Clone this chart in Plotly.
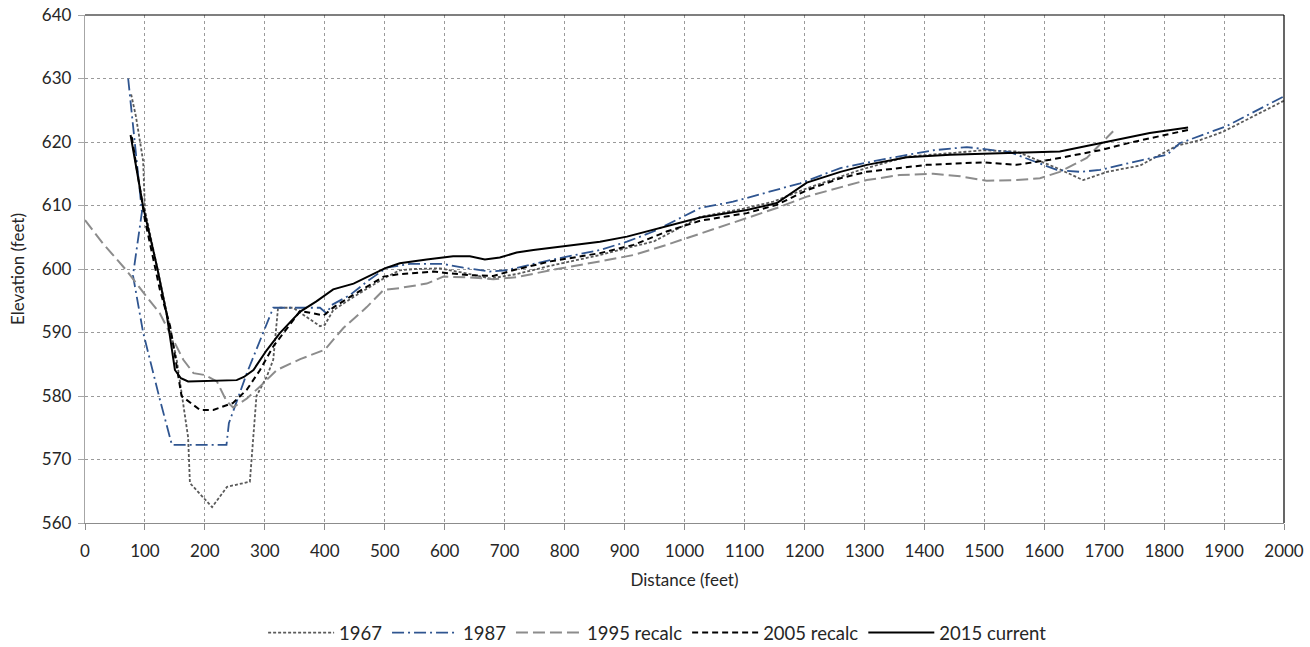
import plotly.graph_objects as go

# ---- data (distance ft, elevation ft) ----
x_1967 = [77, 85, 97, 100, 120, 136, 153, 172, 175, 212, 237, 275, 286, 303, 314, 322, 347, 392,
          400, 414, 448, 498, 525, 550, 592, 637, 676, 720, 776, 859, 950, 1026, 1098, 1148, 1204,
          1293, 1371, 1450, 1498, 1554, 1621, 1665, 1705, 1760, 1821, 1860, 1898, 2000]
y_1967 = [627.5, 624, 617, 609.3, 600.4, 593, 585.7, 573.5, 566.3, 562.5, 565.7, 566.5, 580, 583,
          585.7, 593.9, 593.9, 591, 591.2, 593.5, 595.6, 598.5, 599.8, 600, 600.1, 599.3, 598.5,
          599.2, 600.5, 602.2, 604.4, 608.2, 609.5, 610.6, 612.7, 615.6, 617.7, 618.3, 618.7, 618.5,
          615.9, 614, 615.3, 616.3, 619.4, 620.3, 621.6, 626.5]

x_1987 = [72, 95, 80, 97, 125, 145, 236, 240, 270, 314, 392, 403, 411, 442, 470, 503, 542, 597,
          631, 675, 703, 776, 859, 904, 948, 981, 1026, 1081, 1193, 1260, 1338, 1415, 1471, 1543,
          1621, 1660, 1693, 1765, 1805, 1826, 1843, 1904, 2000]
y_1987 = [630, 609, 599, 590, 579.4, 572.3, 572.3, 575.7, 583.6, 593.9, 593.9, 593, 594.3, 595.9,
          598, 600.2, 600.8, 600.8, 600.2, 599.6, 599.8, 601.4, 603, 604.3, 605.9, 607.5, 609.6,
          610.6, 613.5, 615.9, 617.4, 618.7, 619.2, 618.4, 615.6, 615.3, 615.6, 617.2, 618, 619.8,
          620.4, 622.5, 627.2]

x_1995 = [0, 30, 69, 81, 103, 125, 147, 164, 181, 200, 220, 236, 247, 270, 292, 320, 359, 392,
          400, 431, 470, 498, 525, 570, 598, 637, 681, 720, 776, 859, 915, 970, 1026, 1104, 1154,
          1204, 1304, 1359, 1415, 1460, 1504, 1554, 1593, 1626, 1671, 1715]
y_1995 = [607.7, 604, 599.8, 598.3, 595.6, 593, 588.8, 585.7, 583.6, 583.3, 582.3, 579.2, 578.2,
          579.6, 581.5, 584.1, 585.8, 587, 587.3, 590.7, 594, 596.7, 597, 597.7, 598.8, 598.7,
          598.4, 598.7, 599.8, 601.2, 602.2, 603.8, 605.6, 608, 609.6, 611.4, 614, 614.8, 615,
          614.6, 613.9, 614, 614.3, 615.3, 617.5, 621.7]

x_2005 = [78, 100, 125, 142, 161, 192, 214, 247, 270, 292, 314, 347, 359, 398, 415, 442, 498, 525,
          581, 609, 648, 681, 714, 776, 859, 915, 970, 1026, 1104, 1154, 1204, 1260, 1304, 1404,
          1498, 1554, 1610, 1693, 1748, 1840]
y_2005 = [620.8, 607.7, 596.7, 591, 580, 577.8, 577.8, 578.9, 581, 584.1, 587.8, 592, 593.4, 592.7,
          594, 595.6, 598.8, 599.2, 599.6, 599.3, 599, 598.9, 599.8, 601.2, 602.5, 603.8, 605.9,
          607.6, 608.8, 610.1, 612.4, 614.3, 615.3, 616.4, 616.8, 616.4, 617.2, 618.7, 620, 621.9]

x_2015 = [76, 97, 120, 136, 150, 160, 172, 253, 265, 281, 303, 325, 359, 386, 414, 448, 500, 525,
          570, 614, 642, 667, 692, 720, 748, 803, 859, 904, 959, 1026, 1104, 1154, 1204, 1260,
          1304, 1371, 1443, 1498, 1554, 1626, 1637, 1693, 1776, 1840]
y_2015 = [621.1, 609.8, 600.4, 593, 584.1, 582.8, 582.3, 582.5, 583, 584.1, 587.2, 589.9, 593.3,
          594.9, 596.8, 597.7, 600.1, 600.9, 601.5, 602, 602, 601.5, 601.8, 602.6, 603, 603.6,
          604.3, 605.1, 606.4, 608.1, 609.3, 610.4, 613.6, 615.3, 616.4, 617.6, 618, 618.2, 618.3,
          618.5, 618.7, 619.8, 621.4, 622.3]

x_ticks = list(range(0, 2001, 100))
y_ticks = list(range(560, 641, 10))

FONT = "Lato"

series = [
    ("1967", x_1967, y_1967, "#5a5a5a", "3px,2px", 1.8),
    ("1987", x_1987, y_1987, "#2F5590", "12px,4px,2px,4px", 1.8),
    ("1995 recalc", x_1995, y_1995, "#8C8C8C", "12px,5px", 2.0),
    ("2005 recalc", x_2005, y_2005, "#000000", "6px,4px", 2.0),
    ("2015 current", x_2015, y_2015, "#000000", "solid", 2.0),
]

fig = go.Figure()
for name, xs, ys, col, dash, w in series:
    fig.add_trace(go.Scatter(x=xs, y=ys, mode="lines", name=name,
                             line=dict(color=col, dash=dash, width=w)))

fig.update_layout(
    width=1310, height=647,
    margin=dict(l=85, r=26, t=15, b=124, autoexpand=False),
    paper_bgcolor="white", plot_bgcolor="white",
    font=dict(family=FONT, size=17, color="#262626"),
    showlegend=True,
    legend=dict(orientation="h", xref="container", yref="container",
                x=0.502, xanchor="center", y=0.0216, yanchor="middle",
                font=dict(size=18.5, family=FONT), itemwidth=66, tracegroupgap=0),
    shapes=[
        dict(type="line", xref="paper", yref="paper", x0=0, x1=1, y0=1, y1=1,
             line=dict(color="#000000", width=1.2)),
        dict(type="line", xref="paper", yref="paper", x0=1, x1=1, y0=0, y1=1,
             line=dict(color="#000000", width=1.2)),
    ],
)

fig.update_xaxes(range=[0, 2000], tickvals=x_ticks, ticktext=[str(v) for v in x_ticks],
                 showgrid=True, gridcolor="#9a9a9a", griddash="dot", gridwidth=1,
                 showline=True, linecolor="#8c8c8c", linewidth=1.3,
                 ticks="outside", ticklen=6, tickcolor="#8c8c8c", ticklabelstandoff=6,
                 ticklabeloverflow="allow",
                 zeroline=False, automargin=False,
                 title=dict(text="Distance (feet)", standoff=14, font=dict(size=17)))
fig.update_yaxes(range=[560, 640], tickvals=y_ticks, ticktext=[str(v) for v in y_ticks],
                 showgrid=True, gridcolor="#9a9a9a", griddash="dot", gridwidth=1,
                 showline=True, linecolor="#a6a6a6", linewidth=1.3,
                 ticks="outside", ticklen=6, tickcolor="#a6a6a6", ticklabelstandoff=3,
                 ticklabeloverflow="allow",
                 zeroline=False, automargin=False,
                 title=dict(text="Elevation (feet)", standoff=12, font=dict(size=17)))

# remove the page's default body margin so the figure sits at the window origin
fig.write_html("out.html",
               config={"displayModeBar": False},
               post_script="document.body.style.margin='0';document.body.style.overflow='hidden';")
